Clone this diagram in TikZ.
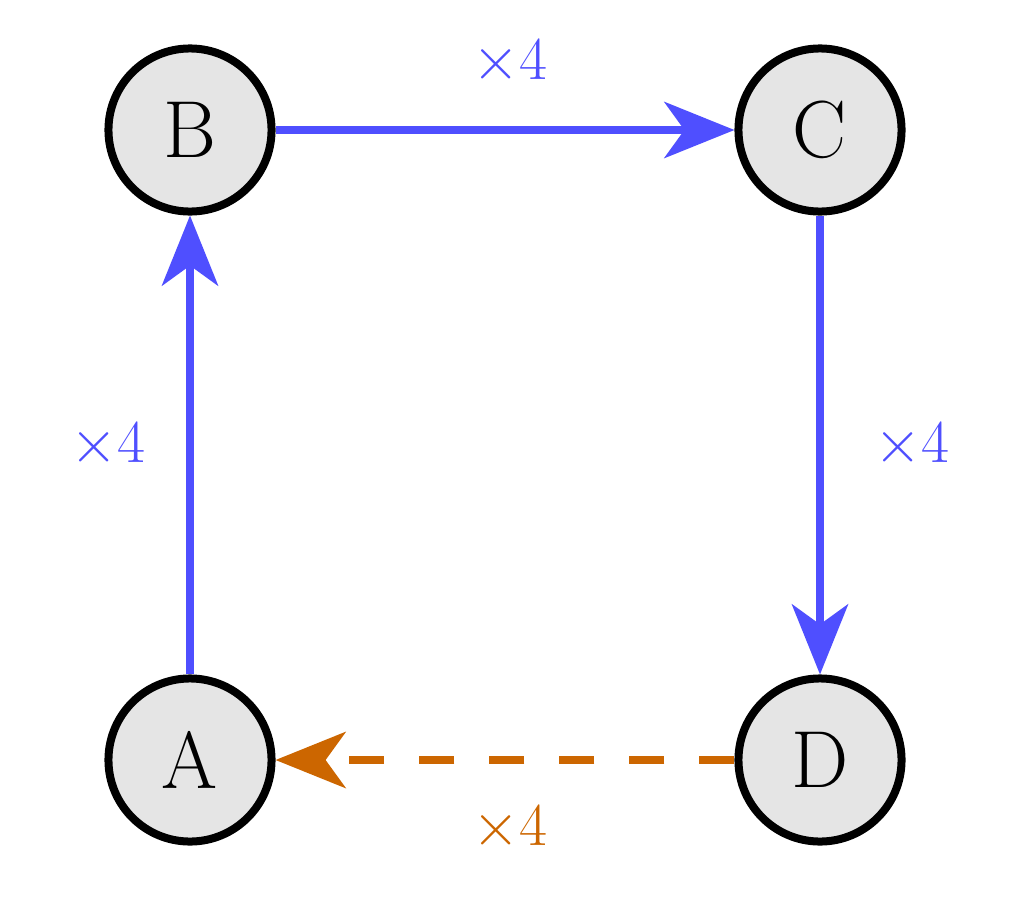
\documentclass[tikz,border=0pt]{standalone}
\usetikzlibrary{arrows.meta}
\definecolor{eblue}{HTML}{4F4FFF}
\definecolor{eorange}{HTML}{CC6600}
\definecolor{nfill}{HTML}{E5E5E5}
\begin{document}
\begin{tikzpicture}[x=0.01cm,y=-0.01cm,
  vertex/.style={circle,draw=black,fill=nfill,line width=0.08cm,minimum size=1.63cm,inner sep=0pt,font=\fontsize{23}{26}\selectfont},
  edgeline/.style={line width=0.08cm,-{Stealth[length=0.7cm,width=0.56cm,inset=0.2cm]}},
  solidedge/.style={edgeline,eblue},
  dashededge/.style={edgeline,eorange,dash pattern=on 0.35cm off 0.35cm},
  elabel/.style={font=\fontsize{16.5}{19}\selectfont,inner sep=0pt}]
\useasboundingbox (0,0) rectangle (1024,909);
\node[vertex] (B) at (190,130) {B};
\node[vertex] (C) at (820,130) {C};
\node[vertex] (A) at (190,760) {A};
\node[vertex] (D) at (820,760) {D};
\draw[solidedge] (A) -- (B);
\draw[solidedge] (B) -- (C);
\draw[solidedge] (C) -- (D);
\draw[dashededge] (D) -- (A);
\node[elabel,text=eblue] (lt) at (510,62) {$\times4$};
\node[elabel,text=eblue] (ll) at (108,445) {$\times4$};
\node[elabel,text=eblue] (lr) at (912,445) {$\times4$};
\node[elabel,text=eorange] (lb) at (510,828) {$\times4$};
\end{tikzpicture}
\end{document}
